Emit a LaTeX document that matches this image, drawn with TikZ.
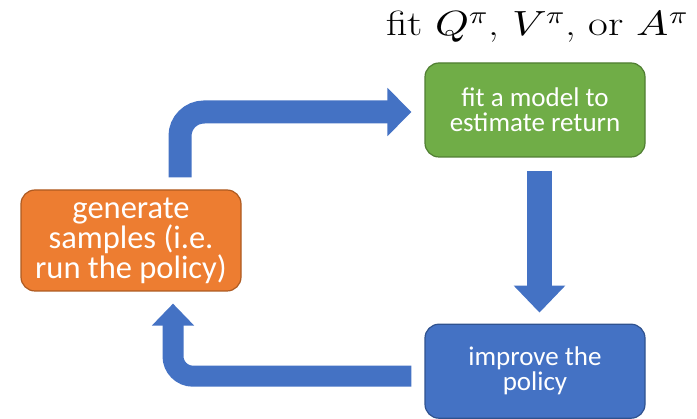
\documentclass[tikz,border=0pt]{standalone}
\usepackage{fontspec}
\usepackage{unicode-math}
\usepackage{xcolor}
\usepackage{tikz}
\usetikzlibrary{positioning,arrows.meta}
\newfontfamily\slidefont{Carlito}
\definecolor{fitgreen}{HTML}{70AD47}
\definecolor{fitgreendark}{HTML}{507E32}
\definecolor{genorange}{HTML}{ED7D31}
\definecolor{genorangedark}{HTML}{AE5A21}
\definecolor{polblue}{HTML}{4472C4}
\definecolor{polbluedark}{HTML}{2F528F}

\begin{document}
\begin{tikzpicture}[x=1pt,y=-1pt,
box/.style={rectangle,rounded corners=14pt,line width=1.2pt,
minimum width=220pt,text=white,align=center,inner sep=0pt,
font=\slidefont\fontsize{27}{25}\selectfont},
fitbox/.style={box,draw=fitgreendark,fill=fitgreen,minimum height=94pt},
polbox/.style={box,draw=polbluedark,fill=polblue,minimum height=94pt},
genbox/.style={box,draw=genorangedark,fill=genorange,minimum height=101pt,
font=\slidefont\fontsize{32.5}{30}\selectfont},
flow/.style={draw=polblue,line width=23pt,-{Triangle[width=47pt,length=24pt]}}]
    \useasboundingbox (0,0) rectangle (697,419);
    \node[fitbox] (fit) at (535,110) {fit a model to\\estimate return};
    \node[polbox] (improve) [below=166pt of fit] {improve the\\policy};
    \node[genbox] (gen) at (131,240.5) {generate\\samples (i.e.\\run the policy)};
    \node[anchor=base east,inner sep=0pt,font=\fontsize{35}{42}\selectfont,xscale=1.23] (title)
        at (688,36) {fit $Q^\pi$, $V^\pi$, or $A^\pi$};
    \draw [flow,rounded corners=24pt] ([xshift=49pt,yshift=12pt]gen.north)
        |- ([shift={(-13pt,-2pt)}]fit.west);
    \draw [flow,line width=25pt,-{Triangle[width=50pt,length=27pt]}]
        ([xshift=4.5pt,yshift=-13pt]fit.south) -- ([xshift=4.5pt,yshift=11pt]improve.north);
    \draw [flow,rounded corners=20pt,line width=21pt,-{Triangle[width=41pt,length=22pt]}]
        ([shift={(-13pt,-5pt)}]improve.west) -| ([xshift=42pt,yshift=-12pt]gen.south);
\end{tikzpicture}
\end{document}
